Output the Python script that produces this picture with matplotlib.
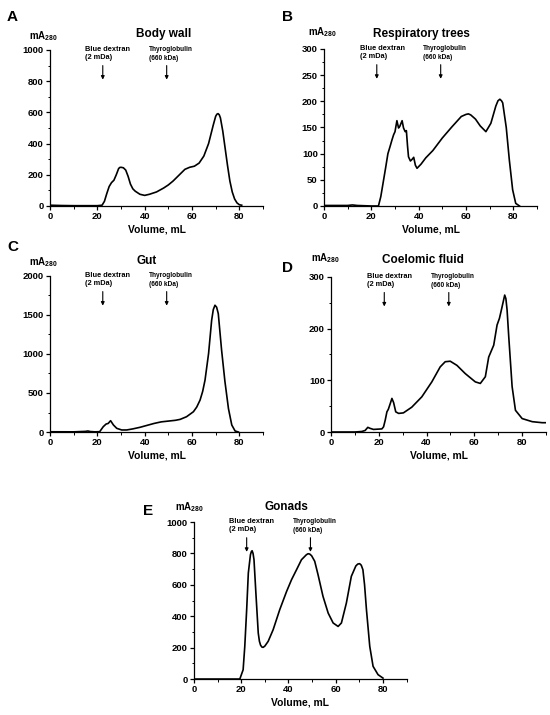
import numpy as np
import matplotlib
matplotlib.use('Agg')
import matplotlib.pyplot as plt
from matplotlib.ticker import MultipleLocator

plt.rcParams['font.family'] = ['Liberation Sans', 'DejaVu Sans']
plt.rcParams['font.weight'] = 'bold'
plt.rcParams['mathtext.fontset'] = 'custom'
plt.rcParams['mathtext.rm'] = 'Liberation Sans:bold'
plt.rcParams['mathtext.bf'] = 'Liberation Sans:bold'
plt.rcParams['mathtext.default'] = 'bf'

# ---- data ----
a_x = [0, 5, 10, 15, 20, 22, 23, 24, 25, 26, 27, 28, 29, 29.5, 30, 31, 32, 33, 34, 35, 36, 38, 40, 42, 45,
       48, 50, 52, 55, 57, 59, 61, 63, 65, 67, 69, 70, 70.5, 71, 71.5, 72, 73, 74, 75, 76, 77, 78, 79, 80, 81]
a_y = [5, 3, 2, 2, 2, 5, 30, 80, 125, 150, 165, 200, 240, 247, 248, 245, 230, 190, 140, 110, 95, 75, 68, 75, 90,
       115, 135, 160, 205, 235, 248, 255, 275, 320, 400, 520, 575, 588, 592, 585, 565, 480, 370, 260, 160, 90,
       45, 20, 8, 5]

b_x = [0, 10, 12, 14, 20, 23, 24, 25, 26, 27, 28, 28.7, 29.4, 30, 30.8, 31.5, 32, 33, 33.6, 34.3, 34.8,
       35.3, 35.7, 36.5, 37.2, 37.9, 38.6, 39.3, 41, 43, 46, 50, 54, 58, 60, 61, 62, 64, 66, 68.4, 70.5, 72.6,
       73.5, 74.3, 75, 75.5, 77, 78.3, 79.7, 81, 82.6]
b_y = [1, 1, 2, 1, 0, 0, 18, 45, 72, 100, 115, 126, 136, 142, 163, 149, 152, 163, 149, 142, 144,
       114, 94, 86, 89, 93, 78, 72, 80, 92, 106, 130, 151, 171, 175, 176, 174, 166, 153, 142, 158, 191,
       201, 204, 201, 197, 150, 88, 31, 5, 0]

c_x = [0, 10, 15, 16, 17, 19, 21, 22.5, 23.7, 24.6, 25.6, 26.8, 28.2, 30.3, 32.4, 35, 38, 41, 44, 47, 50,
       53, 55, 57.7, 60.6, 62, 63.4, 64.5, 65.5, 67, 68.3, 69, 69.7, 70.4, 71.1, 72.5, 73.9, 75.4, 76.8,
       78.2, 79.6]
c_y = [3, 2, 8, 13, 6, 2, 4, 68, 102, 110, 145, 90, 47, 26, 26, 40, 60, 85, 110, 130, 140,
       150, 162, 196, 260, 320, 409, 520, 665, 1006, 1433, 1570, 1625, 1600, 1518, 1050, 650, 300, 90,
       13, 0]

d_x = [0, 10, 12.9, 14.3, 15.4, 16.4, 17.8, 21.3, 22, 22.7, 23.4, 24, 24.8, 25.5, 26.2, 27.1, 28.3, 30.3,
       33.8, 38, 42.2, 45.7, 47.8, 49.9, 52.7, 56.2, 60.4, 62.5, 64.6, 66, 68.1, 69.5, 70.5, 71.3, 72.7,
       73.2, 73.7, 74.4, 75.8, 77.2, 80, 84.2, 88.4, 90]
d_y = [0, 0, 1, 3, 9, 7, 5, 6, 10, 23, 39, 44, 55, 65, 57, 39, 36, 37,
       48, 68, 97, 126, 136, 137, 129, 113, 97, 94, 107, 145, 168, 207, 220, 236, 265,
       258, 236, 184, 88, 42, 26, 20, 18, 18]

e_x = [0, 10, 19.4, 20.8, 21.5, 22.3, 23, 23.9, 24.3, 24.6, 25, 25.4, 26.2, 27.2, 27.7, 28.2, 28.8, 29.3,
       30, 31.4, 33.5, 36.3, 39.2, 41.3, 43.4, 45.5, 47.6, 48.3, 49, 49.8, 51.1, 52.5, 54.6, 56.8, 58.9, 61,
       62.4, 64.5, 66.6, 68.5, 69.3, 70.1, 70.8, 71.5, 72.2, 73, 74.4, 75.8, 77.9, 80]
e_y = [0, 0, 0, 59, 208, 442, 675, 792, 812, 817, 800, 760, 548, 293, 240, 215, 203, 202,
       210, 240, 314, 442, 558, 633, 696, 760, 792, 798, 796, 785, 750, 665, 527, 420, 357, 335,
       357, 484, 654, 720, 732, 735, 725, 696, 600, 442, 208, 81, 28, 6]

titles = ['Body wall', 'Respiratory trees', 'Gut', 'Coelomic fluid', 'Gonads']
letters = ['A', 'B', 'C', 'D', 'E']
y_max = [1000, 300, 2000, 300, 1000]
y_step = [200, 50, 500, 100, 200]
markers = ['Blue dextran\n(2 mDa)', 'Thyroglobulin\n(660 kDa)']
marker_vol = [22.3, 49.3]

# ---- layout ----
fig = plt.figure(figsize=(5.5, 7.15), dpi=100)
rects = [[0.0909, 0.7119, 0.3873, 0.2182],
         [0.5891, 0.7119, 0.3873, 0.2196],
         [0.0909, 0.3958, 0.3873, 0.2182],
         [0.6018, 0.3958, 0.3910, 0.2168],
         [0.3527, 0.0503, 0.3866, 0.2196]]
title_x = [48, 41, 41, 38.5, 39]
title_y = [1.08, 1.078, 1.075, 1.088, 1.076]
unit_x = [-0.099, -0.075, -0.099, -0.094, -0.090]
unit_y = [1.07, 1.09, 1.07, 1.10, 1.076]
letter_pos = [(0.0127, 0.9706), (0.513, 0.9706), (0.0127, 0.649), (0.513, 0.6196), (0.26, 0.2797)]

curves = [(a_x, a_y), (b_x, b_y), (c_x, c_y), (d_x, d_y), (e_x, e_y)]

for i, (xs, ys) in enumerate(curves):
    ax = fig.add_axes(rects[i])
    ax.plot(xs, ys, color='black', lw=1.2)
    ax.set_xlim(0, 90)
    ax.set_ylim(0, y_max[i])
    ax.xaxis.set_major_locator(MultipleLocator(20))
    ax.xaxis.set_minor_locator(MultipleLocator(10))
    ax.yaxis.set_major_locator(MultipleLocator(y_step[i]))
    ax.yaxis.set_minor_locator(MultipleLocator(y_step[i] / 2))
    for s in ['top', 'right']:
        ax.spines[s].set_visible(False)
    for s in ['left', 'bottom']:
        ax.spines[s].set_linewidth(0.9)
    ax.tick_params(which='major', direction='out', length=3, width=0.9, labelsize=6.8, pad=1.5)
    ax.tick_params(which='minor', direction='out', length=1.8, width=0.7)
    ax.set_xlabel('Volume, mL', fontsize=7.4, fontweight='bold', labelpad=2.0)

    ax.text(title_x[i], title_y[i], titles[i], transform=ax.get_xaxis_transform(),
            ha='center', va='baseline', fontsize=8.5, fontweight='bold')
    ax.text(unit_x[i], unit_y[i], r'$mA_{280}$', transform=ax.transAxes,
            ha='left', va='baseline', fontsize=7)
    fig.text(letter_pos[i][0], letter_pos[i][1], letters[i], fontsize=11,
             fontweight='bold', va='baseline')

    # calibration markers
    ax.text(15, 1.025, markers[0], transform=ax.get_xaxis_transform(), ha='left', va='top',
            fontsize=5.3, fontweight='bold', linespacing=1.25)
    ax.text(42, 1.025, markers[1], transform=ax.get_xaxis_transform(), ha='left', va='top',
            fontsize=4.7, fontweight='bold', linespacing=1.4)
    for v in marker_vol:
        ax.annotate('', xy=(v, 0.81), xytext=(v, 0.90),
                    xycoords=ax.get_xaxis_transform(), textcoords=ax.get_xaxis_transform(),
                    arrowprops=dict(arrowstyle='-|>', color='black', lw=0.8,
                                    mutation_scale=5, shrinkA=0, shrinkB=0))

fig.savefig('out.png', dpi=100)
